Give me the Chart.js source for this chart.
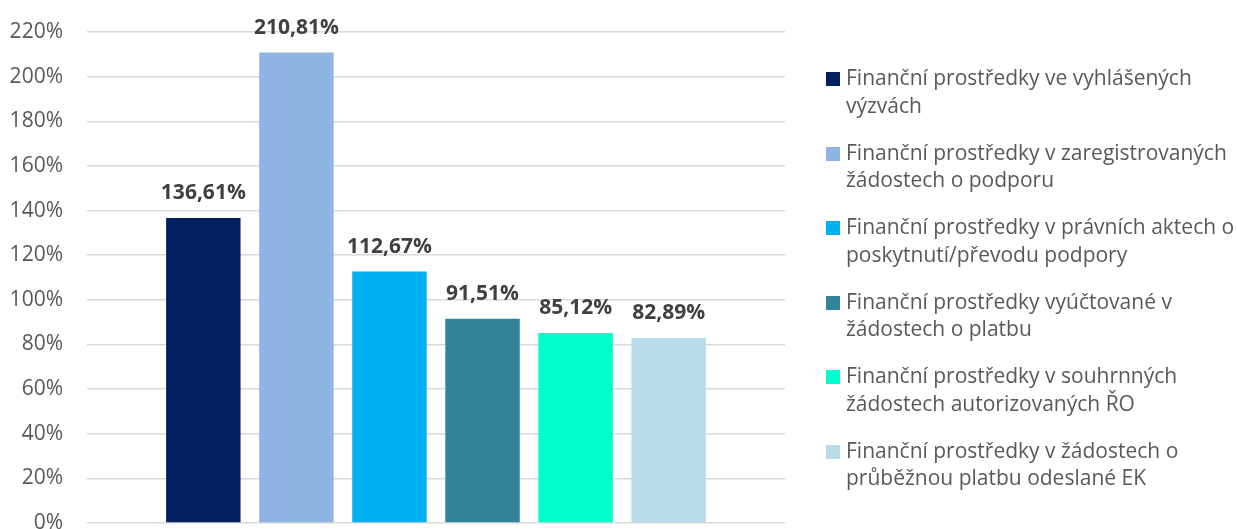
<!DOCTYPE html>
<html>
<head>
<meta charset="utf-8">
<script src="https://cdn.jsdelivr.net/npm/chart.js@4.4.1/dist/chart.umd.min.js"></script>
<style>
  html, body { margin: 0; padding: 0; background: #ffffff; }
  #wrap { position: relative; width: 1237px; height: 529px; overflow: hidden; }
  #c { position: absolute; left: 0; top: 0; }
  #legend { position: absolute; left: 826px; top: 64px; font-family: "Open Sans", "Noto Sans", sans-serif; font-size: 21px; color: #595959; }
  .item { display: flex; align-items: flex-start; margin-bottom: 19.5px; }
  .sw { width: 14px; height: 14px; margin-top: 8px; margin-right: 6px; flex: none; }
  .txt { line-height: 27.5px; white-space: nowrap; }
</style>
</head>
<body>
<div id="wrap">
  <canvas id="c" width="1237" height="529"></canvas>
  <div id="legend"></div>
</div>
<script>
// Data
const categories = [""];
const seriesLines = [
  ["Finanční prostředky ve vyhlášených", "výzvách"],
  ["Finanční prostředky v zaregistrovaných", "žádostech o podporu"],
  ["Finanční prostředky v právních aktech o", "poskytnutí/převodu podpory"],
  ["Finanční prostředky vyúčtované v", "žádostech o platbu"],
  ["Finanční prostředky v souhrnných", "žádostech autorizovaných ŘO"],
  ["Finanční prostředky v žádostech o", "průběžnou platbu odeslané EK"]
];
const seriesValues = [136.61, 210.81, 112.67, 91.51, 85.12, 82.89];
const seriesColors = ["#002060", "#8EB4E3", "#00B0F0", "#31849B", "#00FFCC", "#B7DEE8"];
const yTicks = [0, 20, 40, 60, 80, 100, 120, 140, 160, 180, 200, 220];

function fmt(v) { return v.toFixed(2).replace('.', ',') + '%'; }

const datasets = seriesValues.map((v, i) => ({
  label: seriesLines[i].join(' '),
  data: [v],
  backgroundColor: seriesColors[i],
  borderWidth: 0,
  categoryPercentage: 0.8,
  barPercentage: 0.8
}));

const labelPlugin = {
  id: 'valueLabels',
  afterDatasetsDraw(chart) {
    const ctx = chart.ctx;
    ctx.save();
    ctx.font = 'bold 21px "Open Sans", "Noto Sans", sans-serif';
    ctx.fillStyle = '#404040';
    ctx.textAlign = 'center';
    ctx.textBaseline = 'alphabetic';
    chart.data.datasets.forEach((ds, i) => {
      const meta = chart.getDatasetMeta(i);
      meta.data.forEach((bar, j) => {
        ctx.fillText(fmt(ds.data[j]), bar.x, bar.y - 19);
      });
    });
    ctx.restore();
  }
};

new Chart(document.getElementById('c'), {
  type: 'bar',
  data: { labels: categories, datasets },
  options: {
    responsive: false,
    animation: false,
    events: [],
    layout: { padding: { left: 0, right: 452, top: 32, bottom: 6 } },
    plugins: { legend: { display: false }, tooltip: { enabled: false } },
    scales: {
      x: { display: false },
      y: {
        min: 0, max: 220,
        afterBuildTicks(scale) { scale.ticks = yTicks.map(v => ({ value: v })); },
        afterFit(scale) { scale.width = 87; scale.paddingTop = 0; scale.paddingBottom = 0; },
        border: { display: false },
        grid: { color: '#d9d9d9', lineWidth: 1.5, drawTicks: false },
        ticks: {
          padding: 24,
          color: '#595959',
          font: { family: '"Open Sans", "Noto Sans", sans-serif', size: 21 },
          callback: v => v + '%'
        }
      }
    }
  },
  plugins: [labelPlugin]
});

// HTML legend
const leg = document.getElementById('legend');
seriesLines.forEach((lines, i) => {
  const item = document.createElement('div');
  item.className = 'item';
  const sw = document.createElement('div');
  sw.className = 'sw';
  sw.style.background = seriesColors[i];
  const t = document.createElement('div');
  t.className = 'txt';
  lines.forEach((l, k) => {
    if (k) t.appendChild(document.createElement('br'));
    t.appendChild(document.createTextNode(l));
  });
  item.appendChild(sw);
  item.appendChild(t);
  leg.appendChild(item);
});
</script>
</body>
</html>
